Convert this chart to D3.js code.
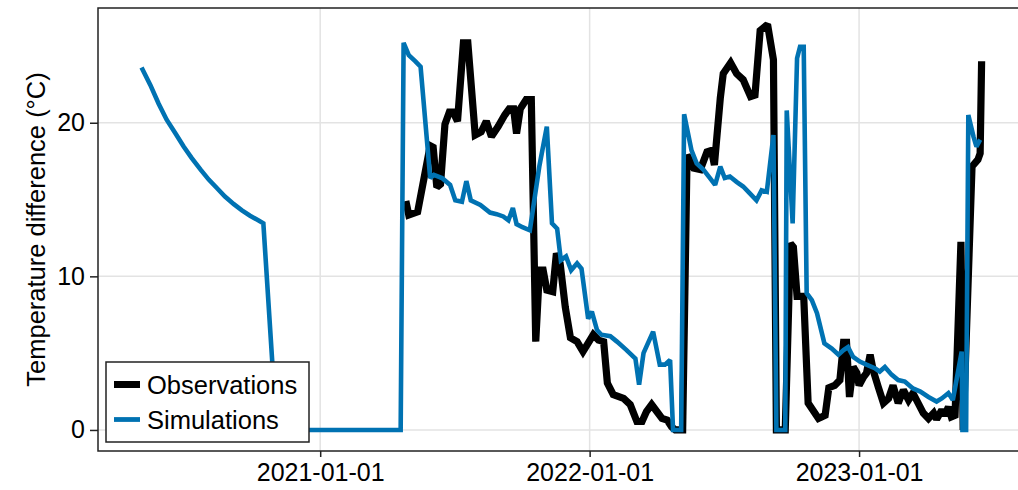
<!DOCTYPE html>
<html>
<head>
<meta charset="utf-8">
<script src="https://cdn.jsdelivr.net/npm/d3@7"></script>
<style>
  html, body { margin: 0; padding: 0; background: #fff; }
  svg { display: block; font-family: "Liberation Sans", Arial, Helvetica, sans-serif; }
</style>
</head>
<body>
<svg id="chart" width="1018" height="490"></svg>
<script>
// ---- Data ----
const obsDates = [
  "2021-04-27","2021-05-01","2021-05-13","2021-05-30","2021-06-03","2021-06-08","2021-06-13","2021-06-19",
  "2021-06-25","2021-06-30","2021-07-06","2021-07-14","2021-07-20","2021-07-30","2021-08-07","2021-08-14",
  "2021-08-21","2021-08-30","2021-09-08","2021-09-14","2021-09-20","2021-09-24","2021-09-29","2021-10-07",
  "2021-10-14","2021-10-20","2021-10-25","2021-10-30","2021-11-04","2021-11-12","2021-11-17","2021-11-22",
  "2021-11-29","2021-12-06","2021-12-15","2021-12-23","2021-12-30","2022-01-06","2022-01-13","2022-01-20",
  "2022-01-25","2022-02-02","2022-02-16","2022-02-25","2022-03-06","2022-03-13","2022-03-19","2022-03-26",
  "2022-04-02","2022-04-09","2022-04-16","2022-04-22","2022-04-27","2022-05-07","2022-05-13","2022-05-22",
  "2022-05-31","2022-06-09","2022-06-15","2022-06-19","2022-06-27","2022-07-01","2022-07-11","2022-07-19",
  "2022-07-28","2022-08-07","2022-08-13","2022-08-20","2022-08-30","2022-09-07","2022-09-11","2022-09-23",
  "2022-09-30","2022-10-04","2022-10-09","2022-10-18","2022-10-24","2022-11-07","2022-11-16","2022-11-21",
  "2022-11-29","2022-12-06","2022-12-11","2022-12-15","2022-12-19","2022-12-24","2022-12-29","2023-01-01",
  "2023-01-07","2023-01-11","2023-01-16","2023-01-20","2023-01-27","2023-02-03","2023-02-10","2023-02-16",
  "2023-02-23","2023-03-02","2023-03-09","2023-03-15","2023-03-22","2023-03-29","2023-04-05","2023-04-12",
  "2023-04-16","2023-04-23","2023-04-27","2023-05-02","2023-05-06","2023-05-11","2023-05-19","2023-05-22",
  "2023-06-03","2023-06-11","2023-06-14","2023-06-16"
];
const obsValues = [
  14.9, 14.0, 14.2, 18.5, 18.4, 15.8, 16.0, 19.9,
  20.7, 20.7, 20.1, 25.2, 25.2, 19.2, 19.4, 20.1,
  19.1, 19.75, 20.5, 20.9, 20.9, 19.3, 20.9, 21.5,
  21.5, 5.75, 10.4, 10.4, 9.1, 9.0, 11.5, 10.85,
  8.0, 6.0, 5.75, 5.1, 5.65, 6.2, 5.85, 5.75,
  3.05, 2.3, 2.05, 1.65, 0.55, 0.55, 1.2, 1.65,
  1.2, 0.75, 0.65, 0.2, 0, 0, 17.9, 17.05,
  16.95, 18.1, 18.2, 17.25, 21.6, 23.2, 23.9, 23.2,
  22.8, 21.7, 21.8, 26.0, 26.4, 24.1, 0, 0,
  12.15, 11.9, 8.7, 8.7, 1.75, 0.75, 0.95, 2.75,
  2.9, 3.25, 5.7, 5.7, 2.15, 4.1, 3.7, 2.9,
  3.45, 3.7, 4.9, 3.9, 2.8, 1.75, 2.05, 2.9,
  1.75, 2.6, 1.95, 2.4, 1.75, 1.1, 0.75, 1.1,
  0.7, 1.3, 0.95, 1.5, 0.85, 0.95, 12.25, 0,
  17.15, 17.6, 18.0, 24.0
];

const simDates = [
  "2020-05-04","2020-05-16","2020-05-27","2020-06-07","2020-06-19","2020-06-30","2020-07-11","2020-07-23",
  "2020-08-03","2020-08-14","2020-08-25","2020-09-06","2020-09-17","2020-09-28","2020-10-09","2020-10-16",
  "2020-11-03","2021-04-20","2021-04-24","2021-05-01","2021-05-10","2021-05-17","2021-05-30","2021-06-04",
  "2021-06-15","2021-06-26","2021-07-03","2021-07-12","2021-07-18","2021-07-24","2021-08-06","2021-08-19",
  "2021-08-28","2021-09-06","2021-09-13","2021-09-19","2021-09-24","2021-10-02","2021-10-12","2021-10-25",
  "2021-11-04","2021-11-11","2021-11-18","2021-11-23","2021-11-30","2021-12-07","2021-12-15","2021-12-21",
  "2021-12-30","2022-01-04","2022-01-11","2022-01-17","2022-01-29","2022-02-07","2022-02-20","2022-03-04",
  "2022-03-09","2022-03-15","2022-03-28","2022-04-06","2022-04-13","2022-04-20","2022-04-24","2022-05-05",
  "2022-05-09","2022-05-19","2022-05-26","2022-06-04","2022-06-13","2022-06-20","2022-06-27","2022-07-03",
  "2022-07-10","2022-07-19","2022-07-28","2022-08-06","2022-08-15","2022-08-22","2022-08-29","2022-09-07",
  "2022-09-11","2022-09-23","2022-09-25","2022-10-03","2022-10-09","2022-10-13","2022-10-18","2022-10-22",
  "2022-10-29","2022-11-05","2022-11-15","2022-11-25","2022-12-04","2022-12-11","2022-12-17","2022-12-24",
  "2023-01-02","2023-01-11","2023-01-23","2023-01-29","2023-02-05","2023-02-14","2023-02-23","2023-03-04",
  "2023-03-15","2023-03-25","2023-04-05","2023-04-16","2023-04-23","2023-05-02","2023-05-08","2023-05-13",
  "2023-05-20","2023-05-21","2023-05-26","2023-05-29","2023-06-05","2023-06-09","2023-06-14"
];
const simValues = [
  23.6, 22.45, 21.25, 20.2, 19.3, 18.45, 17.7, 16.95,
  16.3, 15.75, 15.2, 14.7, 14.3, 13.95, 13.65, 13.45,
  0, 0, 25.2, 24.4, 24.0, 23.65, 16.4, 16.6,
  16.4, 15.95, 14.95, 14.85, 16.2, 14.95, 14.65, 14.15,
  14.05, 13.9, 13.65, 14.45, 13.4, 13.2, 13.0, 17.2,
  19.75, 13.45, 13.1, 11.05, 11.3, 10.4, 10.85, 10.5,
  7.25, 7.7, 6.5, 6.2, 6.1, 5.75, 5.2, 4.65,
  2.95, 5.0, 6.4, 4.25, 4.25, 4.55, 0, 0,
  20.55, 18.2, 17.35, 16.95, 16.4, 15.95, 17.15, 16.4,
  16.5, 16.15, 15.85, 15.4, 14.95, 15.6, 15.5, 19.2,
  0, 0, 20.8, 13.45, 24.2, 24.95, 24.95, 8.9,
  8.45, 7.6, 5.64, 5.3, 4.9, 5.2, 5.4, 4.75,
  4.45, 4.25, 4.0, 3.8, 4.1, 3.6, 3.25, 3.15,
  2.7, 2.5, 2.15, 1.85, 2.05, 2.4, 1.95, 3.25,
  5.1, 0, 0, 20.5, 19.1, 18.45, 18.9
];

const yTicks = [0, 10, 20];
const xTickLabels = ["2021-01-01", "2022-01-01", "2023-01-01"];
const xDomain = ["2020-03-06", "2023-08-07"];
const yDomain = [-1.37, 27.47];
const seriesNames = ["Observations", "Simulations"];
const seriesColors = ["#000000", "#0072b2"];

// ---- Layout ----
const W = 1018, H = 490;
const plot = { left: 98, top: 8, right: 1020, bottom: 451 };
const parse = d3.utcParse("%Y-%m-%d");

const x = d3.scaleUtc().domain(xDomain.map(parse)).range([plot.left, plot.right]);
const y = d3.scaleLinear().domain(yDomain).range([plot.bottom, plot.top]);

const svg = d3.select("#chart");
svg.append("rect").attr("width", W).attr("height", H).attr("fill", "#fff");

svg.append("defs").append("clipPath").attr("id", "clip")
  .append("rect").attr("x", plot.left).attr("y", plot.top)
  .attr("width", plot.right - plot.left).attr("height", plot.bottom - plot.top);

// Grid
const grid = svg.append("g").attr("stroke", "#e3e3e3").attr("stroke-width", 1.5);
grid.selectAll(".gx").data(xTickLabels.map(parse)).join("line")
  .attr("x1", d => x(d)).attr("x2", d => x(d))
  .attr("y1", plot.top).attr("y2", plot.bottom);
grid.selectAll(".gy").data(yTicks).join("line")
  .attr("x1", plot.left).attr("x2", plot.right)
  .attr("y1", d => y(d)).attr("y2", d => y(d));

// Lines
const line = d3.line().x(d => x(d.date)).y(d => y(d.value));
const obs = obsDates.map((d, i) => ({ date: parse(d), value: obsValues[i] }));
const sim = simDates.map((d, i) => ({ date: parse(d), value: simValues[i] }));

const lines = svg.append("g").attr("clip-path", "url(#clip)");
lines.append("path").datum(obs).attr("d", line)
  .attr("fill", "none").attr("stroke", seriesColors[0]).attr("stroke-width", 7.2)
  .attr("stroke-linejoin", "miter").attr("stroke-miterlimit", 2);
lines.append("path").datum(sim).attr("d", line)
  .attr("fill", "none").attr("stroke", seriesColors[1]).attr("stroke-width", 4.6)
  .attr("stroke-linejoin", "miter").attr("stroke-miterlimit", 2);

// Frame
svg.append("rect").attr("x", plot.left).attr("y", plot.top)
  .attr("width", plot.right - plot.left).attr("height", plot.bottom - plot.top)
  .attr("fill", "none").attr("stroke", "#222").attr("stroke-width", 1.5);

// Axes
const xAxis = d3.axisBottom(x).tickValues(xTickLabels.map(parse))
  .tickFormat(d3.utcFormat("%Y-%m-%d")).tickSize(6).tickPadding(6);
const gx = svg.append("g").attr("transform", `translate(0,${plot.bottom})`).call(xAxis);
gx.select(".domain").remove();
gx.selectAll(".tick line").attr("stroke", "#222").attr("stroke-width", 1.5);
gx.selectAll(".tick text").attr("font-size", 25).attr("fill", "#000")
  .attr("font-family", "Liberation Sans, Arial, sans-serif");

const yAxis = d3.axisLeft(y).tickValues(yTicks).tickFormat(d3.format("d")).tickSize(8).tickPadding(5);
const gy = svg.append("g").attr("transform", `translate(${plot.left},0)`).call(yAxis);
gy.select(".domain").remove();
gy.selectAll(".tick line").attr("stroke", "#222").attr("stroke-width", 1.5);
gy.selectAll(".tick text").attr("font-size", 25).attr("fill", "#000")
  .attr("font-family", "Liberation Sans, Arial, sans-serif");

// Y title
svg.append("text")
  .attr("transform", `translate(44.5,${(plot.top + plot.bottom) / 2}) rotate(-90)`)
  .attr("text-anchor", "middle").attr("font-size", 25.5).attr("fill", "#000")
  .text("Temperature difference (°C)");

// Legend
const lg = svg.append("g");
lg.append("rect").attr("x", 106).attr("y", 362).attr("width", 203).attr("height", 80)
  .attr("fill", "#fff").attr("stroke", "#222").attr("stroke-width", 1.5);
const rows = [{ y: 384.5, w: 7 }, { y: 419.5, w: 4.8 }];
seriesNames.forEach((name, i) => {
  lg.append("line").attr("x1", 114).attr("x2", 140).attr("y1", rows[i].y).attr("y2", rows[i].y)
    .attr("stroke", seriesColors[i]).attr("stroke-width", rows[i].w);
  lg.append("text").attr("x", 147).attr("y", rows[i].y + 9.5)
    .attr("font-size", 25.5).attr("fill", "#000").text(name);
});
</script>
</body>
</html>
